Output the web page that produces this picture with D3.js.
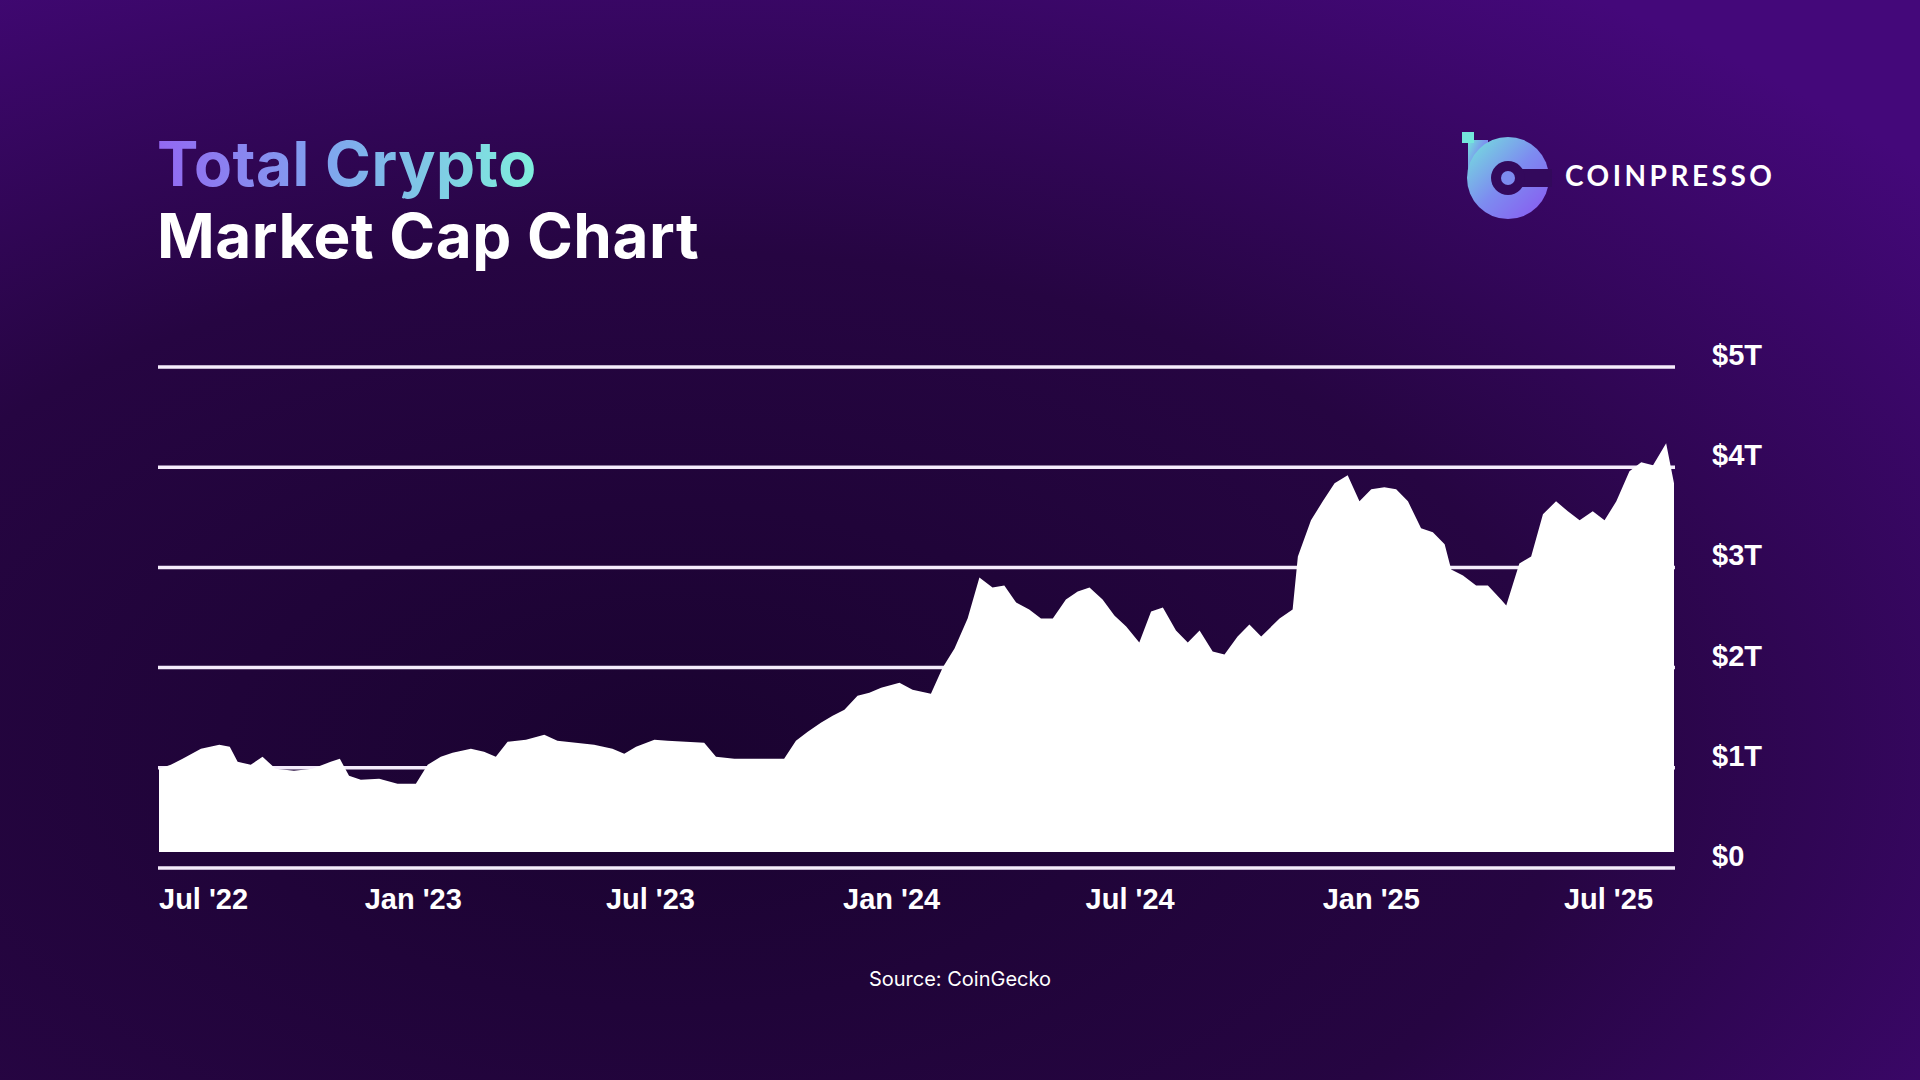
<!DOCTYPE html>
<html lang="en">
<head>
  <meta charset="UTF-8">
  <title>Total Crypto Market Cap Chart</title>
  <script src="https://d3js.org/d3.v7.min.js"></script>
  <style>
    body { margin: 0; background: #1c0433; }
    svg { display: block; }
  </style>
</head>
<body>
  <svg width="1920" height="1080"></svg>
  <script>
    // market cap readings, trillions USD
    const dates = [
      "2022-06-21","2022-06-30","2022-07-09","2022-07-23","2022-08-06","2022-08-14","2022-08-20","2022-08-30",
      "2022-09-08","2022-09-18","2022-10-02","2022-10-16","2022-10-30","2022-11-06","2022-11-13","2022-11-22",
      "2022-12-06","2022-12-20","2023-01-03","2023-01-12","2023-01-22","2023-01-31","2023-02-14","2023-02-24",
      "2023-03-05","2023-03-14","2023-03-28","2023-04-11","2023-04-21","2023-05-05","2023-05-19","2023-06-02",
      "2023-06-11","2023-06-20","2023-07-04","2023-07-14","2023-07-28","2023-08-11","2023-08-20","2023-09-03",
      "2023-09-22","2023-10-11","2023-10-20","2023-10-29","2023-11-08","2023-11-17","2023-11-26","2023-12-06",
      "2023-12-15","2023-12-24","2024-01-07","2024-01-17","2024-01-31","2024-02-09","2024-02-18","2024-02-28",
      "2024-03-08","2024-03-18","2024-03-27","2024-04-05","2024-04-15","2024-04-24","2024-05-03","2024-05-13",
      "2024-05-22","2024-05-31","2024-06-10","2024-06-19","2024-06-28","2024-07-08","2024-07-17","2024-07-26",
      "2024-08-05","2024-08-14","2024-08-23","2024-09-02","2024-09-11","2024-09-21","2024-09-30","2024-10-09",
      "2024-10-23","2024-11-02","2024-11-06","2024-11-16","2024-11-25","2024-12-04","2024-12-14","2024-12-23",
      "2025-01-01","2025-01-11","2025-01-20","2025-01-29","2025-02-08","2025-02-17","2025-02-26","2025-03-03",
      "2025-03-12","2025-03-22","2025-03-31","2025-04-10","2025-04-14","2025-04-24","2025-05-03","2025-05-12",
      "2025-05-22","2025-05-31","2025-06-09","2025-06-19","2025-06-28","2025-07-07","2025-07-17","2025-07-26",
      "2025-08-04","2025-08-14","2025-08-20"
    ];
    const capT = [
      0.99,1.03,1.09,1.19,1.23,1.21,1.06,1.03,
      1.11,0.99,0.97,0.99,1.06,1.09,0.92,0.88,
      0.89,0.84,0.84,1.03,1.11,1.15,1.19,1.16,
      1.11,1.26,1.28,1.33,1.27,1.25,1.23,1.19,
      1.14,1.21,1.28,1.27,1.26,1.25,1.11,1.09,
      1.09,1.09,1.27,1.36,1.45,1.52,1.58,1.72,
      1.75,1.80,1.85,1.78,1.74,2.00,2.19,2.49,
      2.90,2.80,2.82,2.65,2.58,2.49,2.49,2.68,
      2.76,2.80,2.68,2.52,2.41,2.25,2.56,2.60,
      2.37,2.25,2.37,2.16,2.13,2.31,2.43,2.31,
      2.49,2.58,3.11,3.47,3.66,3.84,3.92,3.66,
      3.78,3.80,3.78,3.66,3.39,3.35,3.23,2.98,
      2.92,2.82,2.82,2.68,2.62,3.04,3.11,3.53,
      3.66,3.56,3.47,3.56,3.47,3.66,3.96,4.05,
      4.02,4.24,3.84
    ];
    const yTicks = [0, 1, 2, 3, 4, 5];
    const yTickLabels = ["$0", "$1T", "$2T", "$3T", "$4T", "$5T"];
    const xTicks = ["2022-07-01","2023-01-01","2023-07-01","2024-01-01","2024-07-01","2025-01-01","2025-07-01"];
    const xTickLabels = ["Jul '22","Jan '23","Jul '23","Jan '24","Jul '24","Jan '25","Jul '25"];

    const parse = d3.timeParse("%Y-%m-%d");
    const data = dates.map((d, i) => ({ date: parse(d), v: capT[i] }));

    const svg = d3.select("svg");
    const defs = svg.append("defs");

    // background
    const bg = defs.append("radialGradient").attr("id", "bg")
      .attr("cx", "0.35").attr("cy", "0.7").attr("r", "0.85");
    bg.append("stop").attr("offset", "0").attr("stop-color", "#1a0330");
    bg.append("stop").attr("offset", "0.55").attr("stop-color", "#260542");
    bg.append("stop").attr("offset", "1").attr("stop-color", "#44087a");
    svg.append("rect").attr("width", 1920).attr("height", 1080).attr("fill", "url(#bg)");

    const tg = defs.append("linearGradient").attr("id", "titleGrad")
      .attr("gradientUnits", "userSpaceOnUse").attr("x1", 157).attr("x2", 540).attr("y1", 0).attr("y2", 0);
    tg.append("stop").attr("offset", "0").attr("stop-color", "#9367f2");
    tg.append("stop").attr("offset", "0.45").attr("stop-color", "#7fa6ee");
    tg.append("stop").attr("offset", "1").attr("stop-color", "#7ff0dc");

    // title
    svg.append("text").attr("x", 157).attr("y", 186)
      .attr("font-family", "Inter, 'Open Sans', sans-serif").attr("font-weight", 700)
      .attr("font-size", 62).attr("letter-spacing", 0.5).attr("fill", "url(#titleGrad)")
      .text("Total Crypto");
    svg.append("text").attr("x", 157).attr("y", 258)
      .attr("font-family", "Inter, 'Open Sans', sans-serif").attr("font-weight", 700)
      .attr("font-size", 62).attr("letter-spacing", 0.5).attr("fill", "#ffffff")
      .text("Market Cap Chart");

    // logo
    const lg = defs.append("linearGradient").attr("id", "logoGrad")
      .attr("x1", "0").attr("y1", "0").attr("x2", "1").attr("y2", "1");
    lg.append("stop").attr("offset", "0").attr("stop-color", "#74e6dc");
    lg.append("stop").attr("offset", "0.5").attr("stop-color", "#7d8cf0");
    lg.append("stop").attr("offset", "1").attr("stop-color", "#8a55f0");
    const logo = svg.append("g").attr("transform", "translate(1508,178)");
    logo.append("rect").attr("x", -40).attr("y", -38).attr("width", 20).attr("height", 40).attr("fill", "url(#logoGrad)");
    logo.append("circle").attr("r", 41).attr("fill", "url(#logoGrad)");
    logo.append("rect").attr("x", 0).attr("y", -9).attr("width", 44).attr("height", 18).attr("fill", "#33095c");
    logo.append("circle").attr("r", 17).attr("fill", "#33095c");
    logo.append("circle").attr("r", 7).attr("fill", "#7d8cf0");
    logo.append("rect").attr("x", -46).attr("y", -46).attr("width", 12).attr("height", 11).attr("fill", "#74e6dc");
    svg.append("text").attr("x", 1565).attr("y", 186)
      .attr("font-family", "Lato, 'Open Sans', sans-serif").attr("font-weight", 700)
      .attr("font-size", 28).attr("letter-spacing", 3.5).attr("fill", "#ffffff")
      .text("COINPRESSO");

    // chart
    const x = d3.scaleTime()
      .domain(d3.extent(data, d => d.date))
      .range([159, 1674]);
    const y = d3.scaleLinear().domain([0, 5]).range([868, 367]);

    svg.append("g").selectAll("line").data(yTicks).join("line")
      .attr("x1", 158).attr("x2", 1675)
      .attr("y1", d => y(d)).attr("y2", d => y(d))
      .attr("stroke", "#f4ecfb").attr("stroke-width", 3.5);

    const area = d3.area()
      .x(d => x(d.date))
      .y0(y(0) - 16)
      .y1(d => y(d.v));
    svg.append("path").datum(data).attr("d", area).attr("fill", "#ffffff");

    svg.append("g").selectAll("text").data(yTicks).join("text")
      .attr("x", 1712).attr("y", d => y(d) - 2)
      .attr("font-family", "'Liberation Sans', Arial, sans-serif").attr("font-weight", 700)
      .attr("font-size", 29).attr("fill", "#ffffff")
      .text((d, i) => yTickLabels[i]);

    svg.append("g").selectAll("text").data(xTicks).join("text")
      .attr("x", (d, i) => i === 0 ? x.range()[0] : x(parse(d)))
      .attr("y", 909)
      .attr("text-anchor", (d, i) => i === 0 ? "start" : "middle")
      .attr("font-family", "'Liberation Sans', Arial, sans-serif").attr("font-weight", 700)
      .attr("font-size", 29).attr("fill", "#ffffff")
      .text((d, i) => xTickLabels[i]);

    svg.append("text").attr("x", 960).attr("y", 986).attr("text-anchor", "middle")
      .attr("font-family", "Inter, 'Open Sans', sans-serif").attr("font-size", 20)
      .attr("fill", "#ffffff").text("Source: CoinGecko");
  </script>
</body>
</html>
